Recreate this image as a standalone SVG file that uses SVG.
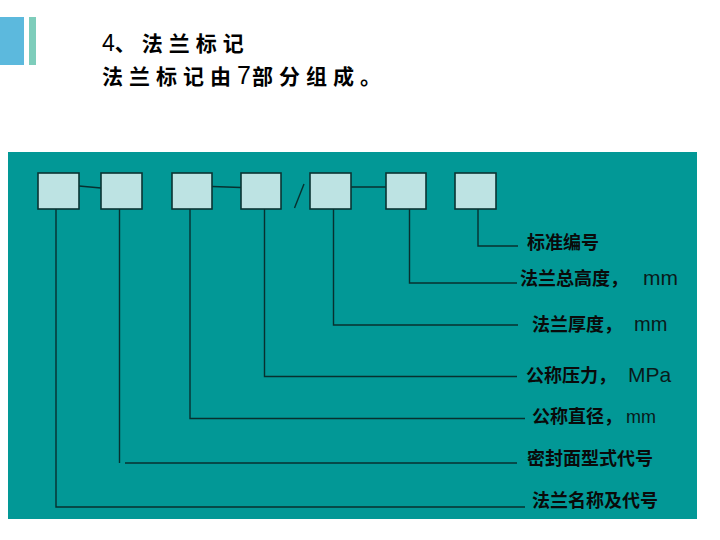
<svg xmlns="http://www.w3.org/2000/svg" width="720" height="540" viewBox="0 0 720 540">
<style>
.box{fill:#bde3e3;stroke:#0b3433;stroke-width:1.6}
.ln{fill:none;stroke:#08302f;stroke-width:1.4}
.lbl{font-family:"Noto Sans CJK SC","Liberation Sans",sans-serif;font-size:18px;font-weight:bold;fill:#0a0a0a}
.u{font-family:"Liberation Sans",Arial,sans-serif;font-weight:normal;fill:#0a1a1a}
.hd{font-family:"Noto Sans CJK SC","Liberation Sans",sans-serif;font-size:21px;font-weight:bold;fill:#000;letter-spacing:6px}
</style>
<rect width="720" height="540" fill="#ffffff"/>
<g id="header">
<rect x="0" y="17" width="24" height="48" fill="#5cb9dd"/>
<rect x="29" y="17" width="7" height="48" fill="#7ecdbb"/>
<text class="hd" x="102" y="51"><tspan font-family="Liberation Sans,sans-serif" font-weight="normal" font-size="23" letter-spacing="0">4</tspan>、法兰标记</text>
<text class="hd" x="102" y="84">法兰标记由<tspan font-family="Liberation Sans,sans-serif" font-weight="normal" font-size="25" letter-spacing="1">7</tspan>部分组成。</text>
</g>
<rect id="panel" x="8" y="152" width="689" height="367" fill="#029896"/>
<g id="connectors">
<line class="ln" x1="79" y1="186" x2="101" y2="188"/>
<line class="ln" x1="212" y1="186.5" x2="241" y2="187.5"/>
<line class="ln" x1="351" y1="187" x2="386" y2="187"/>
<line class="ln" x1="294.5" y1="208" x2="304" y2="184"/>
<polyline class="ln" points="56,209 56,507 525,507"/>
<line class="ln" x1="119.5" y1="209" x2="119.5" y2="463"/>
<line class="ln" x1="125" y1="463" x2="517" y2="463"/>
<polyline class="ln" points="190,209 190,418.5 525,418.5"/>
<polyline class="ln" points="264.5,209 264.5,376.5 517,376.5"/>
<polyline class="ln" points="333.5,209 333.5,325 518,325"/>
<polyline class="ln" points="409.5,209 409.5,283 517,283"/>
<polyline class="ln" points="478,209 478,246 518,246"/>
</g>
<g id="n1"><rect class="box" x="38" y="173" width="41" height="36"/></g>
<g id="n2"><rect class="box" x="101" y="173" width="41" height="36"/></g>
<g id="n3"><rect class="box" x="172" y="173" width="40" height="36"/></g>
<g id="n4"><rect class="box" x="241" y="173" width="40" height="36"/></g>
<g id="n5"><rect class="box" x="310" y="173" width="41" height="36"/></g>
<g id="n6"><rect class="box" x="386" y="173" width="40" height="36"/></g>
<g id="n7"><rect class="box" x="455" y="173" width="41" height="36"/></g>
<g id="labels">
<text class="lbl" x="527" y="249">标准编号</text>
<text class="lbl" x="520" y="285">法兰总高度，<tspan class="u" x="643" font-size="21">mm</tspan></text>
<text class="lbl" x="532" y="331">法兰厚度，<tspan class="u" x="634" font-size="20">mm</tspan></text>
<text class="lbl" x="526" y="382">公称压力，<tspan class="u" x="628" font-size="21">MPa</tspan></text>
<text class="lbl" x="532" y="423" font-size="17">公称直径，<tspan class="u" x="626" font-size="18">mm</tspan></text>
<text class="lbl" x="527" y="465">密封面型式代号</text>
<text class="lbl" x="532" y="507">法兰名称及代号</text>
</g>
</svg>
